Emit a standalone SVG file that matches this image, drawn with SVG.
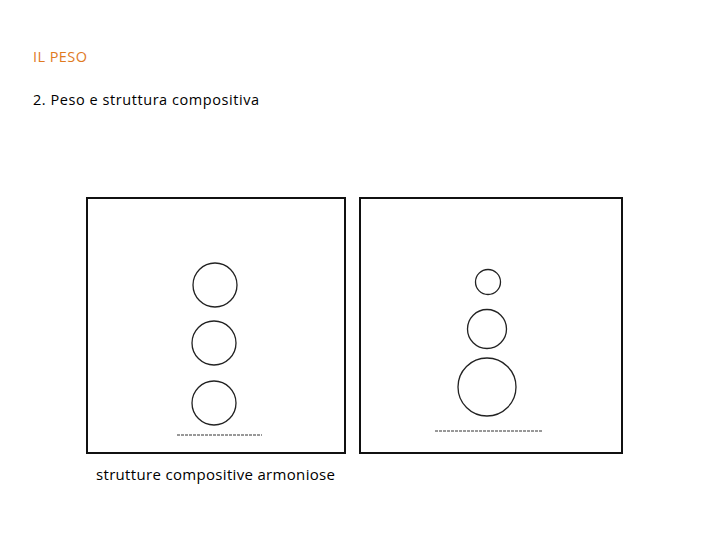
<svg xmlns="http://www.w3.org/2000/svg" width="720" height="540" viewBox="0 0 720 540">
<style>
.t{font-family:"Open Sans","Liberation Sans",sans-serif;fill:#000}
.frame{fill:#fff;stroke:#111;stroke-width:2}
.c{fill:none;stroke:#222;stroke-width:1.3}
.d{fill:none;stroke:#333;stroke-width:1;stroke-dasharray:3 1}
</style>
<rect width="720" height="540" fill="#fff"/>
<text class="t" x="33" y="62" font-size="14.5" textLength="54" style="fill:#E07A1F">IL PESO</text>
<text class="t" x="33" y="105" font-size="14.5" textLength="226">2. Peso e struttura compositiva</text>
<g id="left-panel">
<rect class="frame" x="87" y="198" width="258" height="255"/>
<circle class="c" cx="215" cy="285" r="22"/>
<circle class="c" cx="214" cy="343" r="22"/>
<circle class="c" cx="214" cy="403" r="22"/>
<line class="d" x1="177" y1="435" x2="262" y2="435"/>
</g>
<g id="right-panel">
<rect class="frame" x="360" y="198" width="262" height="255"/>
<circle class="c" cx="488" cy="282" r="12.5"/>
<circle class="c" cx="487" cy="329" r="19.5"/>
<circle class="c" cx="487" cy="387" r="29"/>
<line class="d" x1="435" y1="431" x2="543" y2="431"/>
</g>
<text class="t" x="96" y="480" font-size="15" textLength="239">strutture compositive armoniose</text>
</svg>
